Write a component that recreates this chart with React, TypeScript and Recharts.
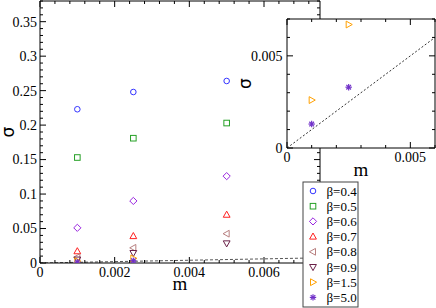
import { ComposedChart, Scatter, Line, XAxis, YAxis, CartesianGrid, Label } from "recharts";

const W = 436;
const H = 308;

// m values where sigma was measured
const mAll = [0.001, 0.0025, 0.005];
const mLow = [0.001, 0.0025];

// sigma per beta
const sigmaBeta04 = [0.223, 0.248, 0.264];
const sigmaBeta05 = [0.153, 0.181, 0.203];
const sigmaBeta06 = [0.051, 0.09, 0.126];
const sigmaBeta07 = [0.017, 0.039, 0.07];
const sigmaBeta08 = [0.0085, 0.022, 0.0425];
const sigmaBeta09 = [0.005, 0.0145, 0.0285];
const sigmaBeta15 = [0.0026, 0.0067];
const sigmaBeta50 = [0.0013, 0.0033];

const betaNames = ["β=0.4", "β=0.5", "β=0.6", "β=0.7", "β=0.8", "β=0.9", "β=1.5", "β=5.0"];

// sigma = m reference line
const diagonalMain = [0, 0.0075];
const diagonalInset = [0, 0.006];

const mainXMajor = [0, 0.002, 0.004, 0.006];
const mainYMajor = [0, 0.05, 0.1, 0.15, 0.2, 0.25, 0.3, 0.35];
const insetXMajor = [0, 0.005];
const insetYMajor = [0, 0.005];

type Kind = "circle" | "square" | "diamond" | "up" | "left" | "down" | "right" | "star";

const markerStyle: { kind: Kind; color: string }[] = [
  { kind: "circle", color: "#3434ff" },
  { kind: "square", color: "#26a026" },
  { kind: "diamond", color: "#9a26e0" },
  { kind: "up", color: "#ff2020" },
  { kind: "left", color: "#b88080" },
  { kind: "down", color: "#6a2048" },
  { kind: "right", color: "#ffa000" },
  { kind: "star", color: "#7030c8" },
];

const mBySeries = [mAll, mAll, mAll, mAll, mAll, mAll, mLow, mLow];
const sigmaBySeries = [
  sigmaBeta04, sigmaBeta05, sigmaBeta06, sigmaBeta07,
  sigmaBeta08, sigmaBeta09, sigmaBeta15, sigmaBeta50,
];

const series = betaNames.map((name, i) => ({
  name,
  ...markerStyle[i],
  points: mBySeries[i].map((m, j) => ({ m, s: sigmaBySeries[i][j] })),
}));
const insetSeries = series.slice(6);

const toLine = (ends: number[]) => ends.map((v) => ({ m: v, s: v }));

const steps = (hi: number, step: number) =>
  Array.from({ length: Math.floor(hi / step + 1e-6) + 1 }, (_, i) => +(i * step).toFixed(6));

const mainXTicks = steps(0.0075, 0.0004);
const mainYTicks = steps(0.38, 0.01);
const insetXTicks = steps(0.006, 0.001);
const insetYTicks = steps(0.007, 0.001);

const FONT = "'Liberation Serif', 'Times New Roman', serif";
const fmt = (v: number) => String(+v.toFixed(4));

function Marker({ cx, cy, kind, color }: { cx: number; cy: number; kind: Kind; color: string }) {
  const r = 2.8;
  const st = { fill: "none", stroke: color, strokeWidth: 1 };
  const poly = (pts: number[][]) => <polygon points={pts.map((p) => p.join(",")).join(" ")} {...st} />;
  switch (kind) {
    case "circle":
      return <circle cx={cx} cy={cy} r={r} {...st} />;
    case "square":
      return <rect x={cx - r} y={cy - r} width={2 * r} height={2 * r} {...st} />;
    case "diamond":
      return poly([[cx, cy - 3.6], [cx + 3.6, cy], [cx, cy + 3.6], [cx - 3.6, cy]]);
    case "up":
      return poly([[cx, cy - 3.6], [cx + 3.4, cy + 2.5], [cx - 3.4, cy + 2.5]]);
    case "down":
      return poly([[cx, cy + 3.6], [cx + 3.4, cy - 2.5], [cx - 3.4, cy - 2.5]]);
    case "left":
      return poly([[cx - 3.6, cy], [cx + 2.5, cy - 3.4], [cx + 2.5, cy + 3.4]]);
    case "right":
      return poly([[cx + 3.6, cy], [cx - 2.5, cy - 3.4], [cx - 2.5, cy + 3.4]]);
    default: {
      const a = 3.2;
      const d = 2.3;
      return (
        <g stroke={color} strokeWidth={1.2}>
          <line x1={cx - a} y1={cy} x2={cx + a} y2={cy} />
          <line x1={cx} y1={cy - a} x2={cx} y2={cy + a} />
          <line x1={cx - d} y1={cy - d} x2={cx + d} y2={cy + d} />
          <line x1={cx - d} y1={cy + d} x2={cx + d} y2={cy - d} />
        </g>
      );
    }
  }
}

type Side = "bottom" | "top" | "left" | "right";

function tickRenderer(side: Side, majors: number[], labelGap = 0) {
  return (props: any) => {
    const { x, y, payload } = props;
    const v = payload.value as number;
    const major = majors.some((t) => Math.abs(t - v) < 1e-9);
    const len = major ? 6 : 3;
    let line;
    let label = null;
    if (side === "bottom") {
      line = <line x1={x} y1={y} x2={x} y2={y - len} />;
      if (major && labelGap)
        label = <text x={x} y={y + labelGap} textAnchor="middle">{fmt(v)}</text>;
    } else if (side === "top") {
      line = <line x1={x} y1={y} x2={x} y2={y + len} />;
    } else if (side === "left") {
      line = <line x1={x} y1={y} x2={x + len} y2={y} />;
      if (major && labelGap)
        label = <text x={x - labelGap} y={y} dy="0.35em" textAnchor="end">{fmt(v)}</text>;
    } else {
      line = <line x1={x} y1={y} x2={x - len} y2={y} />;
    }
    return (
      <g stroke="#000" strokeWidth={1}>
        {line}
        {label && (
          <g stroke="none" fill="#000" fontSize={14} fontFamily={FONT}>
            {label}
          </g>
        )}
      </g>
    );
  };
}

const axisLine = { stroke: "#000", strokeWidth: 1 };

function sigmaLabel(dx: number) {
  return (p: any) => {
    const vb = p.viewBox;
    const x = vb.x + dx;
    const y = vb.y + vb.height / 2;
    return (
      <text x={x} y={y} dy="0.35em" textAnchor="middle" fontSize={17}
        fontFamily="'DejaVu Sans', sans-serif" transform={`rotate(-90, ${x}, ${y})`}>
        σ
      </text>
    );
  };
}

function mLabel(dy: number) {
  return (p: any) => {
    const vb = p.viewBox;
    return (
      <text x={vb.x + vb.width / 2} y={vb.y + dy} textAnchor="middle" fontSize={19} fontFamily={FONT}>
        m
      </text>
    );
  };
}

function MainChart() {
  return (
    <ComposedChart width={W} height={H} margin={{ top: 0, right: 115, bottom: 15, left: 0 }}>
      <XAxis xAxisId="b" type="number" dataKey="m" domain={[0, 0.0075]} ticks={mainXTicks}
        interval={0} tickLine={false} tickSize={0} tickMargin={0} axisLine={axisLine}
        tick={tickRenderer("bottom", mainXMajor, 14)} height={30} allowDataOverflow>
        <Label content={mLabel(27)} />
      </XAxis>
      <XAxis xAxisId="t" orientation="top" type="number" dataKey="m" domain={[0, 0.0075]}
        ticks={mainXTicks} interval={0} tickLine={false} tickSize={0} tickMargin={0}
        axisLine={axisLine} tick={tickRenderer("top", mainXMajor)} height={1} allowDataOverflow />
      <YAxis yAxisId="l" type="number" dataKey="s" domain={[0, 0.38]} ticks={mainYTicks}
        interval={0} tickLine={false} tickSize={0} tickMargin={0} axisLine={axisLine}
        tick={tickRenderer("left", mainYMajor, 3)} width={40} allowDataOverflow>
        <Label content={sigmaLabel(8)} />
      </YAxis>
      <YAxis yAxisId="r" orientation="right" type="number" dataKey="s" domain={[0, 0.38]}
        ticks={mainYTicks} interval={0} tickLine={false} tickSize={0} tickMargin={0}
        axisLine={axisLine} tick={tickRenderer("right", mainYMajor)} width={1} allowDataOverflow />
      <Line xAxisId="t" yAxisId="r" data={toLine(diagonalMain)} dataKey="s" stroke="#555"
        strokeDasharray="3 2" strokeWidth={1} dot={false} isAnimationActive={false} />
      {series.map((s) => (
        <Scatter key={s.name} xAxisId="b" yAxisId="l" name={s.name} data={s.points} dataKey="s"
          isAnimationActive={false}
          shape={(p: any) => <Marker cx={p.cx} cy={p.cy} kind={s.kind} color={s.color} />} />
      ))}
    </ComposedChart>
  );
}

function InsetChart() {
  return (
    <ComposedChart width={W} height={H} margin={{ top: 18, right: 0, bottom: 130, left: 237 }}>
      <CartesianGrid xAxisId="b" yAxisId="l" horizontal={false} vertical={false} fill="#fff" />
      <XAxis xAxisId="b" type="number" dataKey="m" domain={[0, 0.006]} ticks={insetXTicks}
        interval={0} tickLine={false} tickSize={0} tickMargin={0} axisLine={axisLine}
        tick={tickRenderer("bottom", insetXMajor, 13.5)} height={30} allowDataOverflow>
        <Label content={mLabel(28)} />
      </XAxis>
      <XAxis xAxisId="t" orientation="top" type="number" dataKey="m" domain={[0, 0.006]}
        ticks={insetXTicks} interval={0} tickLine={false} tickSize={0} tickMargin={0}
        axisLine={axisLine} tick={tickRenderer("top", insetXMajor)} height={1} allowDataOverflow />
      <YAxis yAxisId="l" type="number" dataKey="s" domain={[0, 0.007]} ticks={insetYTicks}
        interval={0} tickLine={false} tickSize={0} tickMargin={0} axisLine={axisLine}
        tick={tickRenderer("left", insetYMajor, 4.5)} width={50} allowDataOverflow>
        <Label content={sigmaLabel(8)} />
      </YAxis>
      <YAxis yAxisId="r" orientation="right" type="number" dataKey="s" domain={[0, 0.007]}
        ticks={insetYTicks} interval={0} tickLine={false} tickSize={0} tickMargin={0}
        axisLine={axisLine} tick={tickRenderer("right", insetYMajor)} width={1} allowDataOverflow />
      <Line xAxisId="t" yAxisId="r" data={toLine(diagonalInset)} dataKey="s" stroke="#333"
        strokeDasharray="2 2" strokeWidth={1} dot={false} isAnimationActive={false} />
      {insetSeries.map((s) => (
        <Scatter key={s.name} xAxisId="b" yAxisId="l" name={s.name} data={s.points} dataKey="s"
          isAnimationActive={false}
          shape={(p: any) => <Marker cx={p.cx} cy={p.cy} kind={s.kind} color={s.color} />} />
      ))}
    </ComposedChart>
  );
}

function LegendBox() {
  return (
    <svg width={57} height={127} style={{ position: "absolute", left: 302, top: 181 }}>
      <rect x={1} y={1} width={55} height={125} fill="#fff" stroke="#444" strokeWidth={1} />
      {series.map((s, i) => (
        <g key={s.name}>
          <Marker cx={11} cy={10 + i * 15.2} kind={s.kind} color={s.color} />
          <text x={24.5} y={10 + i * 15.2} dy="0.35em" fontSize={13} fontFamily={FONT}>
            {s.name}
          </text>
        </g>
      ))}
    </svg>
  );
}

export default function App() {
  return (
    <div style={{ position: "absolute", left: 0, top: 0, width: W, height: H, background: "#fff" }}>
      <div style={{ position: "absolute", left: 0, top: 0 }}>
        <MainChart />
      </div>
      <div style={{ position: "absolute", left: 0, top: 0 }}>
        <InsetChart />
      </div>
      <LegendBox />
    </div>
  );
}
